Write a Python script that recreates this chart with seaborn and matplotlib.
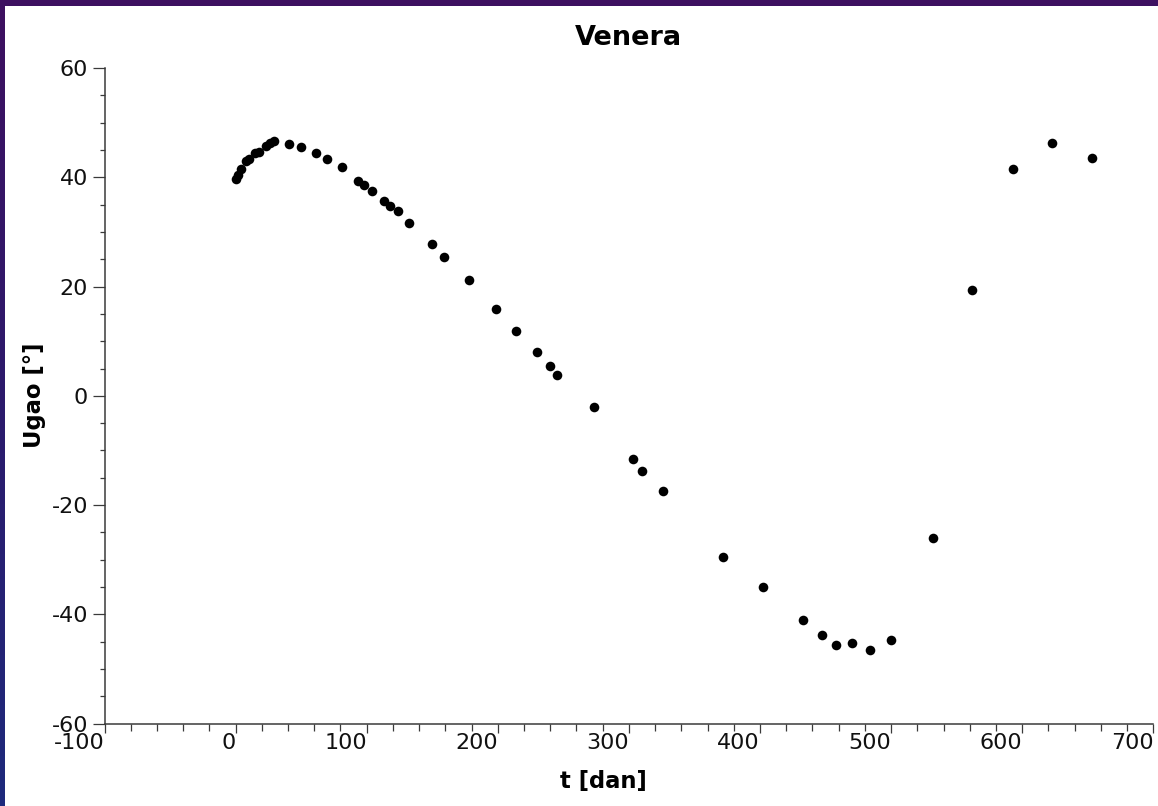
import numpy as np
import pandas as pd
import matplotlib
matplotlib.use("Agg")
import matplotlib.pyplot as plt
from matplotlib.ticker import MultipleLocator
from matplotlib.colors import LinearSegmentedColormap
import seaborn as sns

# ---- data ----
t_days = [0, 2, 4, 8, 10, 15, 18, 23, 26, 29, 41, 50, 61, 70, 81, 93, 98, 104,
          113, 118, 124, 132, 150, 159, 178, 199, 214, 230, 240, 245, 273, 303,
          310, 326, 372, 402, 433, 447, 458, 470, 484, 500, 532, 562, 593, 623, 653]
angle = [39.6, 40.4, 41.5, 42.9, 43.3, 44.4, 44.7, 45.7, 46.3, 46.6, 46.0, 45.6,
         44.5, 43.3, 41.8, 39.4, 38.5, 37.4, 35.6, 34.7, 33.8, 31.6, 27.8, 25.4,
         21.2, 15.9, 11.9, 8.0, 5.5, 3.8, -2.0, -11.5, -13.7, -17.5, -29.5, -34.9,
         -41.1, -43.8, -45.6, -45.3, -46.6, -44.7, -26.0, 19.4, 41.6, 46.3, 43.6]
x_ticks = [-100, 0, 100, 200, 300, 400, 500, 600, 700]
y_ticks = [-60, -40, -20, 0, 20, 40, 60]
title_text = "Venera"
x_label = "t [dan]"
y_label = "Ugao [°]"

df = pd.DataFrame({"t": t_days, "u": angle})

sns.set_style("ticks")
plt.rcParams["font.family"] = ["DejaVu Sans"]
plt.rcParams["axes.unicode_minus"] = False

W, H = 1158, 806
fig = plt.figure(figsize=(W / 100, H / 100), dpi=100)
fig.patch.set_facecolor("#3b1060")

# decorative slide background: purple -> blue gradient on the left strip
bg = fig.add_axes([0, 0, 1, 1], zorder=-10)
grad = np.linspace(0, 1, 256).reshape(-1, 1)
cmap = LinearSegmentedColormap.from_list("bg", ["#3e1060", "#2c1a6c", "#1e2a7c"])
bg.imshow(grad, aspect="auto", cmap=cmap, extent=[0, 1, 1, 0])
bg.add_patch(plt.Rectangle((5 / W, 0), 1, 1 - 6 / H, transform=bg.transAxes,
                           facecolor="white", edgecolor="none"))
bg.set_xlim(0, 1)
bg.set_ylim(1, 0)
bg.axis("off")

left, right = 104.5, 1153.3
top, bottom = 68.0, 723.7
ax = fig.add_axes([left / W, 1 - bottom / H, (right - left) / W, (bottom - top) / H])
ax.set_facecolor("none")

sns.scatterplot(data=df, x="t", y="u", ax=ax, color="black", s=48,
                linewidth=0, legend=False, zorder=3)

ax.set_xlim(x_ticks[0], x_ticks[-1])
ax.set_ylim(y_ticks[0], y_ticks[-1])
ax.set_xticks(x_ticks)
ax.set_xticklabels([str(v) for v in x_ticks], ha="right")
ax.set_yticks(y_ticks)
ax.set_yticklabels([str(v) for v in y_ticks])
ax.xaxis.set_minor_locator(MultipleLocator(20))
ax.yaxis.set_minor_locator(MultipleLocator(5))

for s in ["top", "right"]:
    ax.spines[s].set_visible(False)
for s in ["left", "bottom"]:
    ax.spines[s].set_color("#3a3a3a")
    ax.spines[s].set_linewidth(1.1)

ax.tick_params(axis="x", which="both", bottom=True, top=False)
ax.tick_params(axis="y", which="both", left=True, right=False)
ax.tick_params(axis="x", which="major", direction="out", length=6.5, width=0.9,
               color="#3a3a3a", labelsize=16, pad=0, labelcolor="#111111")
ax.tick_params(axis="x", which="minor", direction="out", length=4.7, width=0.9,
               color="#3a3a3a")
ax.tick_params(axis="y", which="major", direction="out", length=8.3, width=0.9,
               color="#3a3a3a", labelsize=16, pad=3.5, labelcolor="#111111")
ax.tick_params(axis="y", which="minor", direction="out", length=3.6, width=0.9,
               color="#3a3a3a")

ax.set_xlabel("")
ax.set_ylabel("")

fig.text(628 / W, 1 - 45 / H, title_text, ha="center", va="baseline",
         fontsize=19.5, fontweight="bold", color="black")
fig.text(603.5 / W, 1 - 788 / H, x_label, ha="center", va="baseline",
         fontsize=16.3, fontweight="bold", color="black")
fig.text(35 / W, 1 - 395 / H, y_label, ha="center", va="center", rotation=90,
         fontsize=16.3, fontweight="bold", color="black")

fig.savefig("out.png", dpi=100, facecolor=fig.get_facecolor())
